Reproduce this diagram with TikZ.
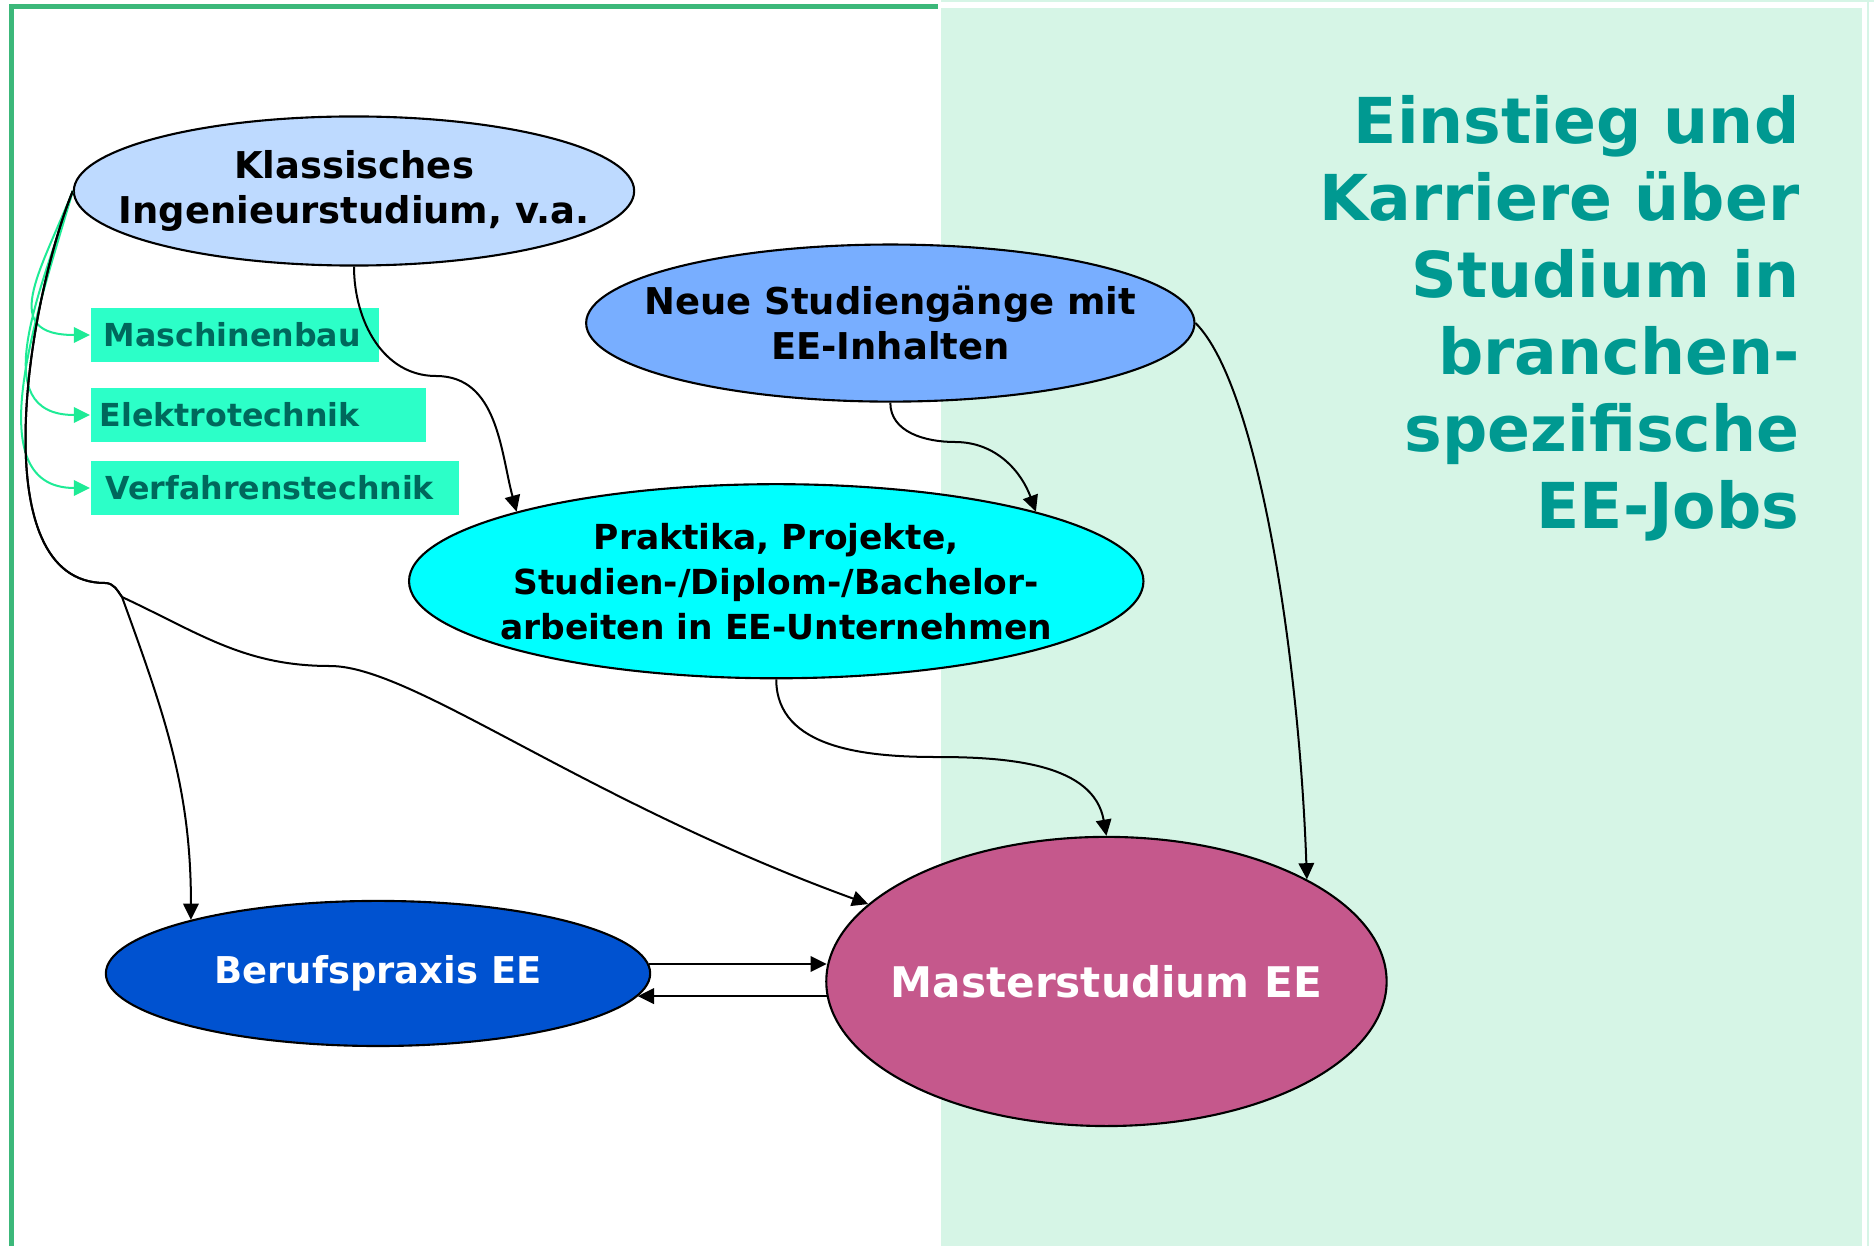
\documentclass[tikz,border=0pt]{standalone}
\usepackage{fontspec}
\setmainfont{DejaVu Sans}
\usepackage{xcolor}
\usetikzlibrary{positioning,arrows.meta,shapes.geometric}

\definecolor{framegreen}{RGB}{60,184,122}
\definecolor{panelgreen}{RGB}{214,245,230}
\definecolor{titleteal}{RGB}{0,153,145}
\definecolor{klassblue}{RGB}{190,218,255}
\definecolor{neueblue}{RGB}{120,174,255}
\definecolor{praktcyan}{RGB}{0,255,255}
\definecolor{berufblue}{RGB}{0,82,208}
\definecolor{masterpink}{RGB}{197,88,140}
\definecolor{boxgreen}{RGB}{44,255,200}
\definecolor{boxtext}{RGB}{0,104,92}
\definecolor{arrowgreen}{RGB}{30,235,150}

\begin{document}
\begin{tikzpicture}[x=0.01cm, y=-0.01cm, on grid,
    blob/.style={ellipse, draw, line width=0.6pt, inner xsep=-1cm, inner ysep=0pt,
        align=center, font=\bfseries\fontsize{10.5}{12.8}\selectfont},
    course/.style={fill=boxgreen, text=boxtext, anchor=west, inner ysep=0pt,
        minimum height=0.53cm, align=left, font=\bfseries\fontsize{9}{11}\selectfont},
    flow/.style={line width=0.57pt, -{Triangle[length=4.6pt,width=4.4pt]}},
    pair/.style={line width=0.75pt, -{Triangle[length=4.6pt,width=4.4pt]}},
    subject/.style={draw=arrowgreen, line width=0.57pt,
        -{Triangle[length=4.6pt,width=4.4pt]}, arrowgreen}]

    % frame and right panel
    \useasboundingbox (0,0) rectangle (1874,1246);
    \fill[panelgreen] (941,8) rectangle (1862,1246);
    \draw[panelgreen, line width=0.6pt] (941,1) -- (1874,1);
    \draw[panelgreen, line width=0.6pt] (1868,1) -- (1868,1246);
    \draw[framegreen, line width=1.4pt] (11.5,1246) -- (11.5,6.3) -- (938,6.3);

    \node[anchor=north east, align=right, text=titleteal, inner sep=0pt,
        font=\bfseries\fontsize{18}{21.9}\selectfont] (title) at (1800,95)
        {Einstieg und\\Karriere über\\Studium in\\branchen-\\spezifische\\EE-Jobs};

    \node[blob, fill=klassblue, minimum width=5.6cm, minimum height=1.49cm] (klass) at (354,191)
        {Klassisches\\Ingenieurstudium, v.a.};
    \node[blob, fill=neueblue, minimum width=6.08cm, minimum height=1.57cm,
        below right=1.32cm and 5.36cm of klass] (neue) {Neue Studiengänge mit\\EE-Inhalten};
    \node[blob, fill=praktcyan, minimum width=7.34cm, minimum height=1.94cm,
        font=\bfseries\fontsize{9.8}{12.8}\selectfont,
        below left=2.58cm and 1.14cm of neue] (prak)
        {Praktika, Projekte,\\Studien-/Diplom-/Bachelor-\\arbeiten in EE-Unternehmen};
    \node[blob, fill=masterpink, text=white, minimum width=5.6cm, minimum height=2.89cm,
        font=\bfseries\fontsize{12}{14}\selectfont,
        below right=4cm and 3.3cm of prak] (master) {Masterstudium EE};
    \node[blob, fill=berufblue, text=white, minimum width=5.44cm, minimum height=1.45cm,
        above left=0.08cm and 7.28cm of master] (beruf) {Berufspraxis EE};

    \node[course, inner xsep=0.13cm, text width=2.62cm] (masch) at (90,335) {Maschinenbau};
    \node[course, inner xsep=0.09cm, text width=3.17cm] (elek) at (90,415) {Elektrotechnik};
    \node[course, inner xsep=0.15cm, text width=3.38cm] (verf) at (90,488) {Verfahrenstechnik};

    \coordinate (hook) at (105,583);
    \coordinate (split) at (122,597);
    \coordinate (kmid) at (436,376);
    \coordinate (nmid) at (955,442);
    \coordinate (pmid) at (937,757);
    \coordinate (kink) at (330,666);

    \draw[subject] (klass.west) to[out=-112,in=180,looseness=1.6] (masch.west);
    \draw[subject] (klass.west) to[out=-108,in=180,looseness=1.2] (elek.west);
    \draw[subject] (klass.west) to[out=-106,in=180] (verf.west);

    \draw[flow] (klass.south) to[out=-90,in=180] (kmid) to[out=0,in=105] (prak.165);
    \draw[flow] (neue.south) to[out=-90,in=180] (nmid) to[out=0,in=110] (prak.15);
    \draw[flow] (prak.south) to[out=-90,in=180] (pmid) to[out=0,in=100] (master.north);
    \draw[flow] (neue.east) to[out=-45,in=92,out looseness=0.4] (master.27);
    \draw[flow] (klass.west) to[out=-112,in=180,looseness=0.8] (hook) to[out=0,in=125] (split)
        to[out=-70,in=90] (beruf.164);
    \draw[flow] (klass.west) to[out=-112,in=180,looseness=0.8] (hook) to[out=0,in=125] (split)
        to[out=-25,in=180] (kink)
        to[out=0,in=160,out looseness=0.36,in looseness=1.33] (master.162);

    \draw[pair] (beruf.2) -- (beruf.2 -| master.177);
    \draw[pair] (master.183) -- (master.183 -| beruf.-5);

\end{tikzpicture}
\end{document}
